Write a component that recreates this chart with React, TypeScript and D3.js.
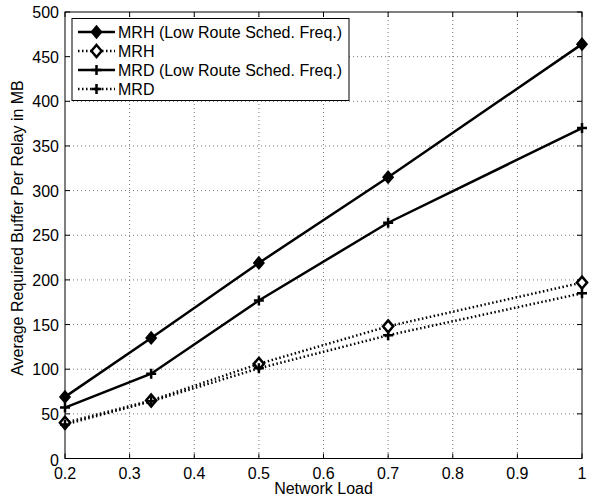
import React from "react";
import * as d3 from "d3";

const xValues = [0.2, 1 / 3, 0.5, 0.7, 1.0];
const mrhLow = [69, 135, 219, 315, 464];
const mrh = [40, 65, 106, 148, 197];
const mrdLow = [57, 95, 177, 264, 370];
const mrd = [38, 64, 101, 138, 185];
const xTicks = [0.2, 0.3, 0.4, 0.5, 0.6, 0.7, 0.8, 0.9, 1];
const yTicks = [0, 50, 100, 150, 200, 250, 300, 350, 400, 450, 500];

const series = [
  { name: "MRH (Low Route Sched. Freq.)", values: mrhLow, dotted: false, marker: "diamond", filled: true },
  { name: "MRH", values: mrh, dotted: true, marker: "diamond", filled: false },
  { name: "MRD (Low Route Sched. Freq.)", values: mrdLow, dotted: false, marker: "plus", filled: true },
  { name: "MRD", values: mrd, dotted: true, marker: "plus", filled: true },
];

const W = 589, H = 498;
const L = 65, R = 582, T = 12, B = 458.5;

function Marker({ kind, filled, x, y }: any) {
  if (kind === "diamond") {
    const s = 6;
    return (
      <path
        d={`M${x},${y - s}L${x + s * 0.85},${y}L${x},${y + s}L${x - s * 0.85},${y}Z`}
        fill={filled ? "#000" : "#fff"}
        stroke="#000"
        strokeWidth={filled ? 1.5 : 2.5}
      />
    );
  }
  const s = 5;
  return (
    <path d={`M${x - s},${y}H${x + s}M${x},${y - s}V${y + s}`} stroke="#000" strokeWidth={2.5} />
  );
}

export default function App() {
  const x = d3.scaleLinear().domain([0.2, 1]).range([L, R]);
  const y = d3.scaleLinear().domain([0, 500]).range([B, T]);
  const line = d3
    .line<number>()
    .x((_, i) => x(xValues[i]))
    .y((d) => y(d));
  const font = "Helvetica, Arial, 'Liberation Sans', sans-serif";

  return (
    <svg width={W} height={H} style={{ position: "absolute", left: 0, top: 0, background: "#fff" }} fontFamily={font}>
      <rect x={0} y={0} width={W} height={H} fill="#fff" />
      {/* grid */}
      {xTicks.slice(1, -1).map((t) => (
        <line key={"gx" + t} x1={x(t)} x2={x(t)} y1={T} y2={B} stroke="#555" strokeWidth={0.8} strokeDasharray="1,3" />
      ))}
      {yTicks.slice(1, -1).map((t) => (
        <line key={"gy" + t} x1={L} x2={R} y1={y(t)} y2={y(t)} stroke="#555" strokeWidth={0.8} strokeDasharray="1,3" />
      ))}
      {/* ticks */}
      {xTicks.map((t) => (
        <g key={"tx" + t}>
          <line x1={x(t)} x2={x(t)} y1={B} y2={B - 5} stroke="#000" />
          <line x1={x(t)} x2={x(t)} y1={T} y2={T + 5} stroke="#000" />
          <text x={x(t)} y={B + 20} fontSize={16} textAnchor="middle">{String(t)}</text>
        </g>
      ))}
      {yTicks.map((t) => (
        <g key={"ty" + t}>
          <line x1={L} x2={L + 5} y1={y(t)} y2={y(t)} stroke="#000" />
          <line x1={R} x2={R - 5} y1={y(t)} y2={y(t)} stroke="#000" />
          <text x={L - 6} y={y(t) + (t === 0 ? 7 : 6)} fontSize={16} textAnchor="end">{String(t)}</text>
        </g>
      ))}
      <rect x={L} y={T} width={R - L} height={B - T} fill="none" stroke="#000" strokeWidth={1} />
      {/* series */}
      {series.map((s) => (
        <g key={s.name}>
          <path
            d={line(s.values) || ""}
            fill="none"
            stroke="#000"
            strokeWidth={2.5}
            strokeDasharray={s.dotted ? "1.5,2.5" : undefined}
          />
          {s.values.map((v, i) => (
            <Marker key={i} kind={s.marker} filled={s.filled} x={x(xValues[i])} y={y(v)} />
          ))}
        </g>
      ))}
      {/* legend */}
      <rect x={72} y={18.5} width={277} height={82} fill="#fff" stroke="#000" strokeWidth={1} />
      {series.map((s, i) => {
        const cy = 32 + i * 19;
        return (
          <g key={"lg" + s.name}>
            <line x1={78} x2={115} y1={cy} y2={cy} stroke="#000" strokeWidth={2.5} strokeDasharray={s.dotted ? "1.5,2.5" : undefined} />
            <Marker kind={s.marker} filled={s.filled} x={96.5} y={cy} />
            <text x={118} y={cy + 6} fontSize={16}>{s.name}</text>
          </g>
        );
      })}
      <text x={(L + R) / 2} y={494} fontSize={16} textAnchor="middle">Network Load</text>
      <text transform={`translate(23,228) rotate(-90)`} fontSize={16} textAnchor="middle">
        Average Required Buffer Per Relay in MB
      </text>
    </svg>
  );
}
